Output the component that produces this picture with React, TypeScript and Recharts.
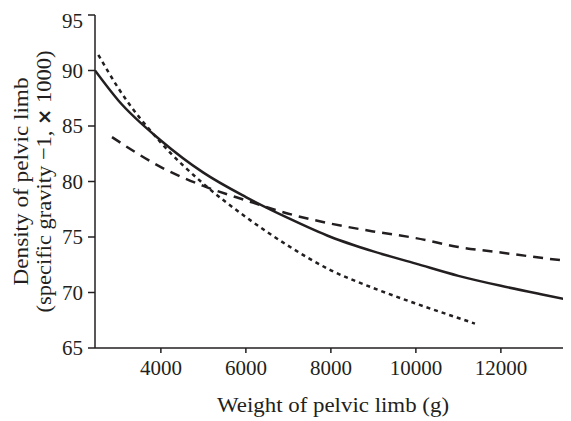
import { LineChart, Line, XAxis, YAxis } from 'recharts';

// weight of pelvic limb (g) vs density, three fitted curves
const solidX = [2450, 3000, 4000, 5000, 6000, 7000, 8000, 9000, 10000, 11000, 12000, 13000, 13650];
const solidY = [90, 87.3, 83.7, 80.8, 78.6, 76.7, 75.0, 73.7, 72.6, 71.5, 70.6, 69.8, 69.3];

const dashedX = [2850, 4000, 5000, 6000, 7000, 8000, 9000, 10000, 11000, 12000, 13000, 13650];
const dashedY = [84.0, 81.3, 79.6, 78.3, 77.1, 76.2, 75.5, 74.9, 74.1, 73.6, 73.1, 72.8];

const dottedX = [2530, 3000, 4000, 5000, 6000, 7000, 8000, 9000, 10000, 11000, 11390];
const dottedY = [91.4, 88.4, 83.5, 79.8, 76.8, 74.2, 72.0, 70.4, 69.0, 67.7, 67.2];

const xTicks = [4000, 6000, 8000, 10000, 12000];
const yTicks = [65, 70, 75, 80, 85, 90, 95];

const toRows = (xs: number[], ys: number[]) => xs.map((x, i) => ({ x, y: ys[i] }));

const ink = '#231f20';
const font = '"Liberation Serif", "DejaVu Serif", serif';

function YLabel(props: any) {
  const vb = props.viewBox || {};
  const cy = vb.y + vb.height / 2;
  return (
    <g fill={ink} fontFamily={font} fontSize={22}>
      <text x={20} y={cy} transform={`rotate(-90, 20, ${cy})`} textAnchor="middle" textLength={208} lengthAdjust="spacingAndGlyphs">
        Density of pelvic limb
      </text>
      <text x={43} y={cy} transform={`rotate(-90, 43, ${cy})`} textAnchor="middle" textLength={262} lengthAdjust="spacingAndGlyphs">
        (specific gravity −1, <tspan fontWeight="bold" fontFamily="DejaVu Sans" fontSize={19}>×</tspan> 1000)
      </text>
    </g>
  );
}

function XLabel(props: any) {
  const vb = props.viewBox || {};
  const cx = vb.x + vb.width / 2;
  return (
    <text x={cx} y={404} textAnchor="middle" fill={ink} fontFamily={font} fontSize={22} textLength={232} lengthAdjust="spacingAndGlyphs">
      Weight of pelvic limb (g)
    </text>
  );
}

export default function App() {
  return (
    <LineChart width={563} height={413} margin={{ top: 7, right: 0, bottom: 43, left: 27 }}>
      <XAxis
        type="number"
        dataKey="x"
        domain={[2450, 13650]}
        ticks={xTicks}
        allowDataOverflow
        stroke={ink}
        strokeWidth={1.5}
        tickSize={5}
        tick={{ fill: ink, fontSize: 21, fontFamily: font }}
        tickMargin={7}
        label={<XLabel />}
      />
      <YAxis
        type="number"
        domain={[65, 95]}
        ticks={yTicks}
        width={60}
        stroke={ink}
        strokeWidth={1.5}
        tickSize={7}
        tick={{ fill: ink, fontSize: 21, fontFamily: font }}
        tickMargin={5}
        label={<YLabel />}
      />
      <Line data={toRows(solidX, solidY)} dataKey="y" type="monotone" stroke={ink} strokeWidth={2.5} dot={false} isAnimationActive={false} />
      <Line data={toRows(dashedX, dashedY)} dataKey="y" type="monotone" stroke={ink} strokeWidth={2.5} strokeDasharray="10 7" dot={false} isAnimationActive={false} />
      <Line data={toRows(dottedX, dottedY)} dataKey="y" type="monotone" stroke={ink} strokeWidth={2.5} strokeDasharray="4 4" dot={false} isAnimationActive={false} />
    </LineChart>
  );
}
